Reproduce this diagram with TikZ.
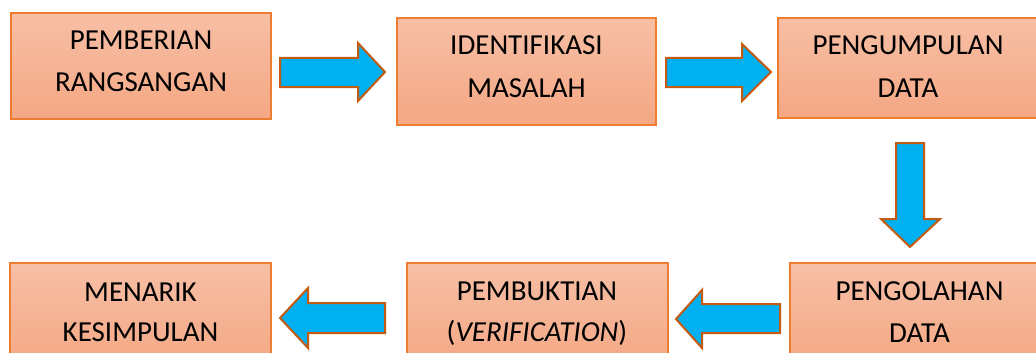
\documentclass[tikz,border=0pt]{standalone}
\usepackage{fontspec}
\setmainfont{Carlito}
\definecolor{boxtop}{HTML}{F7BFA5}
\definecolor{boxbot}{HTML}{F4A784}
\definecolor{boxline}{HTML}{ED7D31}
\definecolor{arrfill}{HTML}{00B0F0}
\definecolor{arrline}{HTML}{C55A11}
\tikzset{
  stepbox/.style={draw=boxline, line width=1.5pt, top color=boxtop, bottom color=boxbot, inner sep=0pt},
  lbl/.style={anchor=base, inner sep=0pt, font=\fontsize{29}{34}\selectfont, text=black},
  blockarr/.style={draw=arrline, fill=arrfill, line width=2pt, line join=miter},
}
\begin{document}
\begin{tikzpicture}[x=1pt,y=-1pt]
\path[use as bounding box, fill=white] (0,0) rectangle (1036,353);
\clip (0,0) rectangle (1036,353);
% boxes
\node[stepbox, minimum width=260pt, minimum height=106pt] (b1) at (141,66) {};
\node[stepbox, minimum width=259pt, minimum height=107pt] (b2) at (526.5,71.5) {};
\node[stepbox, minimum width=260pt, minimum height=100pt] (b3) at (908,68) {};
\node[stepbox, minimum width=260pt, minimum height=106pt] (b4) at (920,316) {};
\node[stepbox, minimum width=261pt, minimum height=106pt] (b5) at (537.5,316) {};
\node[stepbox, minimum width=261pt, minimum height=106pt] (b6) at (140.5,316) {};
% texts
\node[lbl] (t1a) at (141,50) {PEMBERIAN};
\node[lbl] (t1b) at (141,92) {RANGSANGAN};
\node[lbl] (t2a) at (526.5,55) {IDENTIFIKASI};
\node[lbl] (t2b) at (526.5,97) {MASALAH};
\node[lbl] (t3a) at (908,55) {PENGUMPULAN};
\node[lbl] (t3b) at (908,97) {DATA};
\node[lbl] (t4a) at (919.5,300) {PENGOLAHAN};
\node[lbl] (t4b) at (919.5,342) {DATA};
\node[lbl] (t5a) at (537,300) {PEMBUKTIAN};
\node[lbl] (t5b) at (537,341) {(\textit{VERIFICATION})};
\node[lbl] (t6a) at (140.5,301) {MENARIK};
\node[lbl] (t6b) at (140.5,341) {KESIMPULAN};
% block arrows
\draw[blockarr] (280,58) -- (358,58) -- (358,43) -- (385,72) -- (358,101) -- (358,87) -- (280,87) -- cycle;
\draw[blockarr] (666,58) -- (742,58) -- (742,44) -- (771,72) -- (742,101) -- (742,87) -- (666,87) -- cycle;
\draw[blockarr] (896,143) -- (924,143) -- (924,219) -- (940,219) -- (910,247) -- (881,219) -- (896,219) -- cycle;
\draw[blockarr] (780,304) -- (702,304) -- (702,290) -- (676,319) -- (702,348) -- (702,333) -- (780,333) -- cycle;
\draw[blockarr] (385,303) -- (308,303) -- (308,288) -- (280,318) -- (308,348) -- (308,333) -- (385,333) -- cycle;
\end{tikzpicture}
\end{document}
